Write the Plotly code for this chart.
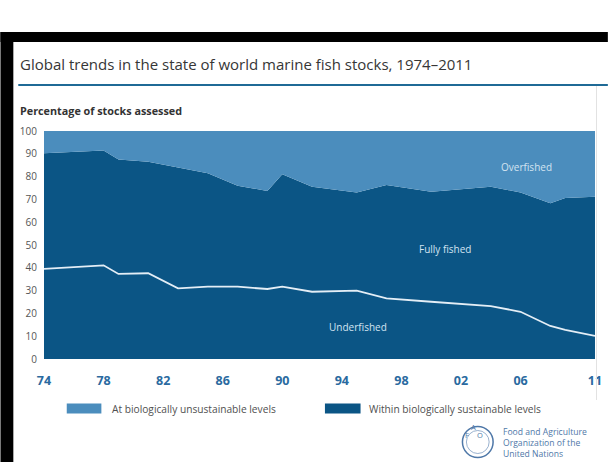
import plotly.graph_objects as go

# ---- data ----
years = [1974, 1978, 1979, 1981, 1983, 1985, 1987, 1989, 1990, 1992, 1995,
         1997, 2000, 2004, 2006, 2008, 2009, 2011]
# upper edge of the "within biologically sustainable levels" area (% of stocks)
sustainable = [90.2, 91.4, 87.5, 86.5, 84.0, 81.5, 76.0, 73.7, 81.0, 75.5, 73.0,
               76.3, 73.4, 75.6, 73.0, 68.3, 70.6, 71.2]
# underfished share (white line)
underfished = [39.5, 41.1, 37.3, 37.6, 31.0, 31.7, 31.7, 30.7, 31.7, 29.5, 30.0,
               26.6, 25.1, 23.2, 20.7, 14.5, 12.8, 10.1]
overfished = [round(100 - s, 1) for s in sustainable]

xtick_vals = [1974, 1978, 1982, 1986, 1990, 1994, 1998, 2002, 2006, 2011]
xtick_text = ["74", "78", "82", "86", "90", "94", "98", "02", "06", "11"]
ytick_vals = list(range(0, 101, 10))

title_text = "Global trends in the state of world marine fish stocks, 1974\u20132011"
ylabel_text = "Percentage of stocks assessed"
legend_labels = ["At biologically unsustainable levels", "Within biologically sustainable levels"]
area_labels = [("Overfished", 2006.4, 84.2), ("Fully fished", 2000.9, 48.2), ("Underfished", 1995.1, 14.2)]

DARK = "#0b5585"
LIGHT = "#4b8dbd"
FONT = "Open Sans"

W, H = 614, 462
L, R, T, B = 44, 601, 131, 359  # plot area in pixels

def px(x):
    return (x - L) / (R - L)

def py(y):
    return (B - y) / (B - T)

fig = go.Figure()
fig.add_trace(go.Scatter(x=years, y=sustainable, stackgroup="one", mode="none",
                         fillcolor=DARK, name=legend_labels[1], showlegend=False,
                         hoverinfo="skip"))
fig.add_trace(go.Scatter(x=years, y=overfished, stackgroup="one", mode="none",
                         fillcolor=LIGHT, name=legend_labels[0], showlegend=False,
                         hoverinfo="skip"))
fig.add_trace(go.Scatter(x=years, y=underfished, mode="lines",
                         line=dict(color="#e4eef6", width=1.8), showlegend=False,
                         hoverinfo="skip"))

shapes = []
annotations = []

# area labels
for txt, xv, yv in area_labels:
    annotations.append(dict(x=xv, y=yv, xref="x", yref="y", text=txt, showarrow=False,
                            font=dict(family=FONT, size=10, color="#d3e4f1")))

# title + rule
annotations.append(dict(x=px(18), y=py(64), xref="paper", yref="paper", text=title_text,
                        showarrow=False, xanchor="left", yanchor="middle",
                        font=dict(family=FONT, size=15, color="#363636")))
shapes.append(dict(type="line", xref="paper", yref="paper", x0=px(18), x1=px(614),
                   y0=py(85), y1=py(85), line=dict(color="#1f6a96", width=2)))
annotations.append(dict(x=px(18), y=py(111), xref="paper", yref="paper", text="<b>" + ylabel_text + "</b>",
                        showarrow=False, xanchor="left", yanchor="middle",
                        font=dict(family=FONT, size=10.8, color="#333333")))

# legend (manual)
shapes.append(dict(type="rect", xref="paper", yref="paper", x0=px(67), x1=px(102),
                   y0=py(413.5), y1=py(403.5), fillcolor=LIGHT, line=dict(width=0)))
annotations.append(dict(x=px(111), y=py(408.5), xref="paper", yref="paper", text=legend_labels[0],
                        showarrow=False, xanchor="left", yanchor="middle",
                        font=dict(family=FONT, size=10.2, color="#505050")))
shapes.append(dict(type="rect", xref="paper", yref="paper", x0=px(328), x1=px(364),
                   y0=py(413.5), y1=py(403.5), fillcolor=DARK, line=dict(width=0)))
annotations.append(dict(x=px(371), y=py(408.5), xref="paper", yref="paper", text=legend_labels[1],
                        showarrow=False, xanchor="left", yanchor="middle",
                        font=dict(family=FONT, size=10.2, color="#505050")))

# FAO logo approximation
shapes.append(dict(type="circle", xref="paper", yref="paper", x0=px(467), x1=px(498),
                   y0=py(457.5), y1=py(426.5), line=dict(color="#4f78a8", width=1.5)))
shapes.append(dict(type="circle", xref="paper", yref="paper", x0=px(471), x1=px(494),
                   y0=py(453.5), y1=py(430.5), line=dict(color="#7f9dc2", width=0.8)))
for t, xx, yy in [("F", 475.5, 442), ("A", 482.5, 433.5), ("O", 489.5, 442)]:
    annotations.append(dict(x=px(xx), y=py(yy), xref="paper", yref="paper", text=t,
                            showarrow=False, font=dict(family=FONT, size=7.5, color="#4f78a8")))
annotations.append(dict(x=px(506), y=py(443), xref="paper", yref="paper",
                        text="Food and Agriculture<br>Organization of the<br>United Nations",
                        showarrow=False, xanchor="left", yanchor="middle", align="left",
                        font=dict(family=FONT, size=8.6, color="#4f78a8")))

# frame
shapes.append(dict(type="rect", xref="paper", yref="paper", x0=px(0), x1=px(13),
                   y0=py(462), y1=py(32), fillcolor="black", line=dict(width=0)))
shapes.append(dict(type="rect", xref="paper", yref="paper", x0=px(0), x1=px(614),
                   y0=py(42), y1=py(32), fillcolor="black", line=dict(width=0)))
shapes.append(dict(type="line", xref="paper", yref="paper", x0=px(602.5), x1=px(602.5),
                   y0=py(400), y1=py(86), line=dict(color="#e2e2e2", width=1)))

fig.update_layout(
    width=W, height=H,
    margin=dict(l=L, r=W - R, t=T, b=H - B, pad=0),
    paper_bgcolor="white", plot_bgcolor="white",
    shapes=shapes, annotations=annotations, showlegend=False,
    font=dict(family=FONT),
)
fig.update_xaxes(range=[1974, 2011], tickvals=xtick_vals, ticktext=xtick_text,
                 showgrid=False, zeroline=False, showline=False,
                 ticks="", ticklabelstandoff=12,
                 tickfont=dict(family=FONT, size=12.5, color="#2a6aa0", weight="bold"))
fig.update_yaxes(range=[0, 100], tickvals=ytick_vals, showgrid=False, zeroline=False,
                 showline=False, ticks="", ticklabelstandoff=6,
                 tickfont=dict(family=FONT, size=10, color="#555555"))

fig.write_html("out.html")
